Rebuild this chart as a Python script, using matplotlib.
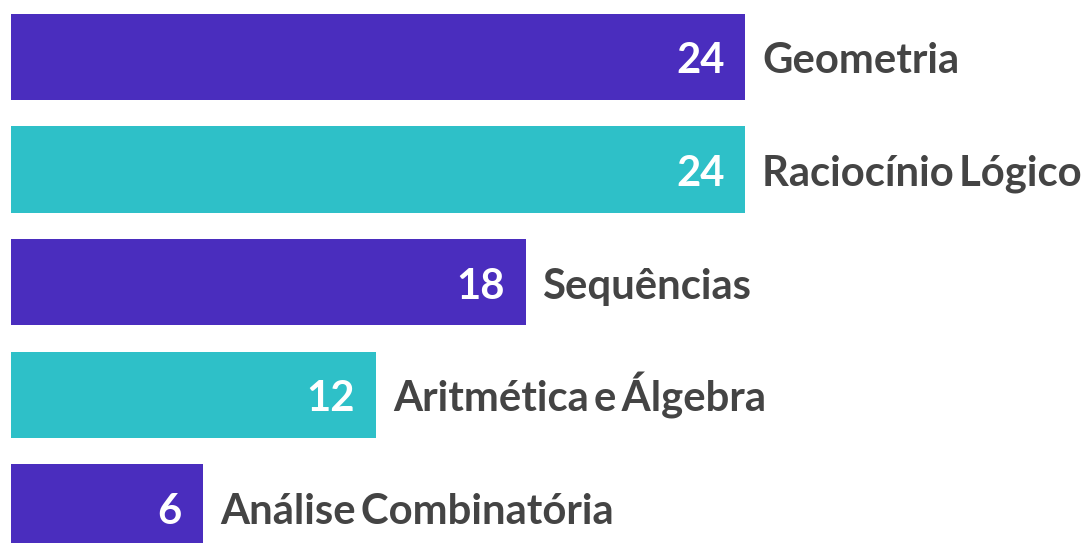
import matplotlib
matplotlib.use("Agg")
import matplotlib.pyplot as plt

categories = ["Geometria", "Raciocínio\u2009Lógico", "Sequências", "Aritmética\u2009e\u2009Álgebra", "Análise\u2009Combinatória"]
bar_values = [24, 24, 16.83, 11.92, 6.27]
value_labels = ["24", "24", "18", "12", "6"]
colors = ["#4A2DBE", "#2EC0C8", "#4A2DBE", "#2EC0C8", "#4A2DBE"]

W, H = 1084, 543
fig = plt.figure(figsize=(W / 100, H / 100), dpi=100)
ax = fig.add_axes([11 / W, 0, 1071 / W, 1])
ax.set_xlim(0, 35)
ax.set_ylim(4.317, -0.505)
ax.axis("off")

ypos = list(range(len(categories)))
ax.barh(ypos, bar_values, height=0.766, color=colors, edgecolor="none")

font = dict(family=["Lato", "DejaVu Sans"], fontweight="bold", fontsize=30.2)
for y, v, lab, cat in zip(ypos, bar_values, value_labels, categories):
    ax.annotate(lab, (v, y), xytext=(-21, -16.5), textcoords="offset pixels",
                ha="right", va="baseline", color="white", **font)
    ax.annotate(cat, (v, y), xytext=(17, -16.5), textcoords="offset pixels",
                ha="left", va="baseline", color="#444444", annotation_clip=False, **font)

fig.savefig("out.png", dpi=100)
